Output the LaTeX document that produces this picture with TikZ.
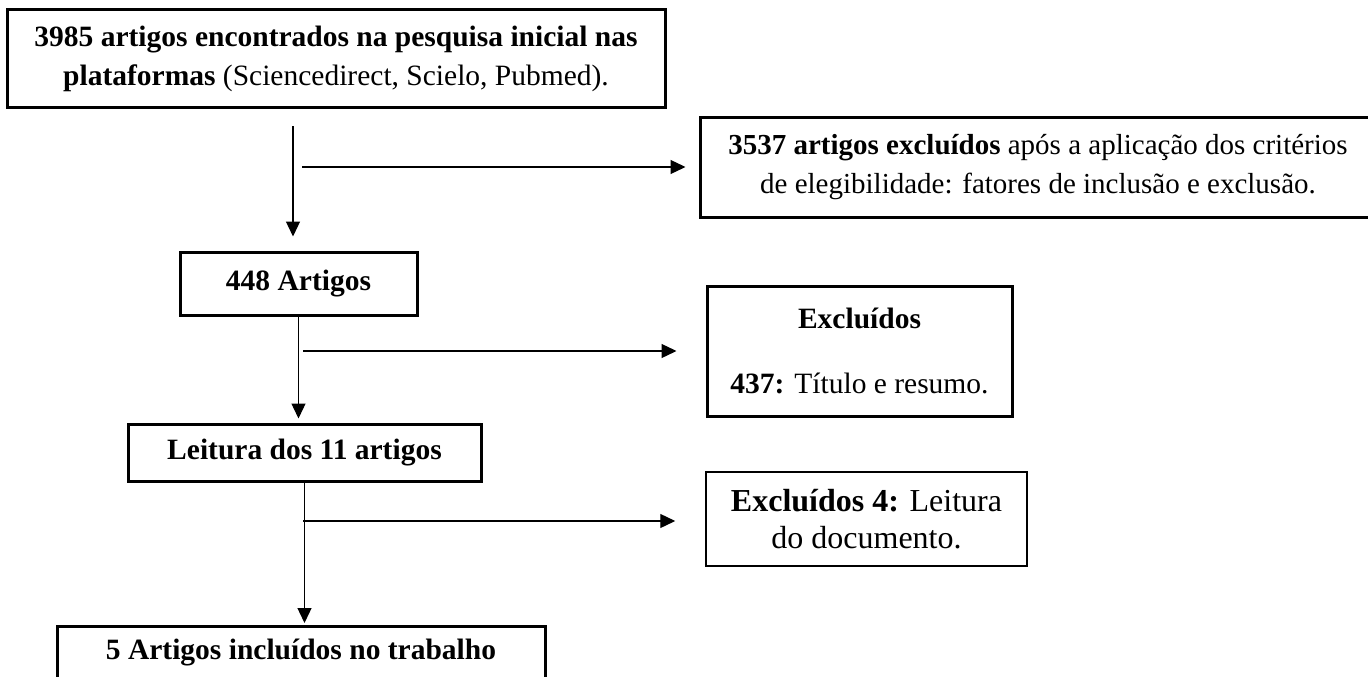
\documentclass[tikz,border=0pt]{standalone}
\usepackage{fontspec}
\setmainfont{Liberation Serif}
\usepackage{tikz}
\usetikzlibrary{arrows.meta}

\tikzset{
  caixa/.style={draw, line width=3pt, inner sep=0pt, align=center, font=\fontsize{29.5}{39}\selectfont},
  caixafina/.style={caixa, line width=1.5pt},
  seta/.style={line width=1.3pt, -{Triangle[length=15pt,width=14pt]}}
}

\begin{document}
\begin{tikzpicture}[x=1pt,y=-1pt]
            \useasboundingbox (0,0) rectangle (1368,677);
            % caixas
            \node[caixa, minimum width=658pt, minimum height=97pt] (busca) at (336,58.5)
                {\textbf{3985 artigos encontrados na pesquisa inicial nas}\\\textbf{plataformas} (Sciencedirect, Scielo, Pubmed).};
            \node[caixa, minimum width=676pt, minimum height=100pt, font=\fontsize{29}{39}\selectfont] (excl1) at (1038,167)
                {\textbf{3537 artigos excluídos} após a aplicação dos critérios\\de elegibilidade: fatores de inclusão e exclusão.};
            \node[caixa, minimum width=237pt, minimum height=63pt] (art448) at (298.5,283.5) {\textbf{448 Artigos}};
            \node[caixa, minimum width=305pt, minimum height=130pt] (excl2) at (859.5,351)
                {\textbf{Excluídos}\\[26pt]\textbf{437:} Título e resumo.};
            \node[caixa, minimum width=353pt, minimum height=57pt] (leitura) at (304.5,452.5) {\textbf{Leitura dos 11 artigos}};
            \node[caixafina, minimum width=321pt, minimum height=94pt, font=\fontsize{32}{37}\selectfont] (excl3) at (866.5,519)
                {\textbf{Excluídos 4:} Leitura\\do documento.};
            \node[caixa, minimum width=488pt, text height=33pt, text depth=37pt, anchor=north] (incl) at (301,625)
                {\textbf{5 Artigos incluídos no trabalho}};
            % setas
            \coordinate (a1) at (293,126);
            \coordinate (j1) at (302,167);
            \coordinate (j2) at (303,351);
            \coordinate (j3) at (303,521);
            \draw[seta, shorten >=14pt] (a1) -- (a1 |- art448.north);
            \draw[seta, shorten >=13pt] (j1) -- (j1 -| excl1.west);
            \draw[seta, shorten >=4pt] (art448.south) -- (art448.south |- leitura.north);
            \draw[seta, shorten >=29pt] (j2) -- (j2 -| excl2.west);
            \draw[seta, shorten >=2pt] (leitura.south) -- (leitura.south |- incl.north);
            \draw[seta, shorten >=30pt] (j3) -- (j3 -| excl3.west);
\end{tikzpicture}
\end{document}
